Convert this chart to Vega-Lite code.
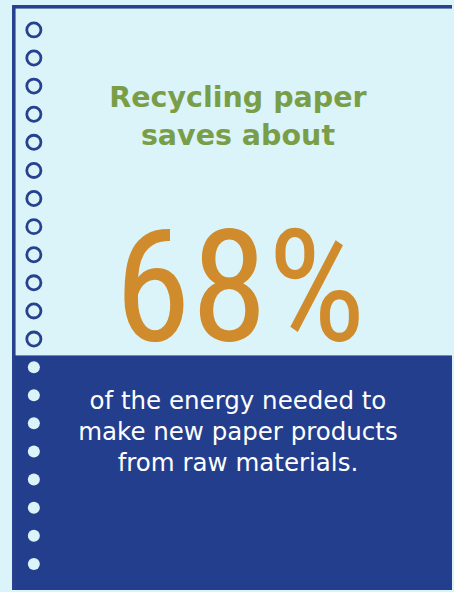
{
  "$schema": "https://vega.github.io/schema/vega-lite/v6.json",
  "autosize": {"type": "fit", "contains": "padding"},
  "width": 454,
  "height": 592,
  "padding": 0,
  "background": "#DAF4FA",
  "config": {"view": {"stroke": null}, "axis": {"disable": true}},
  "datasets": {
    "holes": [
      {"i": 0, "kind": "open"}, {"i": 1, "kind": "open"}, {"i": 2, "kind": "open"}, {"i": 3, "kind": "open"},
      {"i": 4, "kind": "open"}, {"i": 5, "kind": "open"}, {"i": 6, "kind": "open"}, {"i": 7, "kind": "open"},
      {"i": 8, "kind": "open"}, {"i": 9, "kind": "open"}, {"i": 10, "kind": "open"}, {"i": 11, "kind": "open"},
      {"i": 12, "kind": "filled"}, {"i": 13, "kind": "filled"}, {"i": 14, "kind": "filled"}, {"i": 15, "kind": "filled"},
      {"i": 16, "kind": "filled"}, {"i": 17, "kind": "filled"}, {"i": 18, "kind": "filled"}, {"i": 19, "kind": "filled"}
    ],
    "texts": [
      {"block": "headline", "text": "Recycling paper\nsaves about"},
      {"block": "stat", "text": "68%", "value": 68},
      {"block": "caption", "text": "of the energy needed to\nmake new paper products\nfrom raw materials."}
    ]
  },
  "data": {"name": "texts"},
  "resolve": {"scale": {"y": "independent", "x": "independent"}},
  "layer": [
    {
      "mark": {"type": "rect", "color": "#243E8E"},
      "encoding": {
        "x": {"datum": 13, "type": "quantitative", "scale": {"domain": [0, 454]}},
        "x2": {"datum": 454},
        "y": {"datum": 357, "type": "quantitative", "scale": {"domain": [0, 592], "reverse": true}},
        "y2": {"datum": 592}
      }
    },
    {
      "mark": {"type": "rule", "color": "#27418F", "strokeWidth": 3},
      "encoding": {
        "x": {"datum": 13, "type": "quantitative", "scale": {"domain": [0, 454]}},
        "x2": {"datum": 454},
        "y": {"datum": 6.7, "type": "quantitative", "scale": {"domain": [0, 592], "reverse": true}}
      }
    },
    {
      "mark": {"type": "rule", "color": "#27418F", "strokeWidth": 3},
      "encoding": {
        "x": {"datum": 13.8, "type": "quantitative", "scale": {"domain": [0, 454]}},
        "y": {"datum": 5.3, "type": "quantitative", "scale": {"domain": [0, 592], "reverse": true}},
        "y2": {"datum": 592}
      }
    },
    {
      "data": {"name": "holes"},
      "transform": [{"filter": "datum.kind === 'open'"}],
      "mark": {"type": "point", "shape": "circle", "filled": false, "stroke": "#27418F", "strokeWidth": 2.8, "size": 200, "opacity": 1},
      "encoding": {
        "x": {"datum": 34, "type": "quantitative", "scale": {"domain": [0, 454]}},
        "y": {"field": "i", "type": "quantitative", "scale": {"domain": [-1.0638, 19.929], "reverse": true, "zero": false, "nice": false}}
      }
    },
    {
      "data": {"name": "holes"},
      "transform": [{"filter": "datum.kind === 'filled'"}],
      "mark": {"type": "point", "shape": "circle", "filled": true, "fill": "#DAF4FA", "size": 144, "opacity": 1},
      "encoding": {
        "x": {"datum": 34, "type": "quantitative", "scale": {"domain": [0, 454]}},
        "y": {"field": "i", "type": "quantitative", "scale": {"domain": [-1.0638, 19.929], "reverse": true, "zero": false, "nice": false}}
      }
    },
    {
      "transform": [{"filter": "datum.block === 'headline'"}],
      "mark": {"type": "text", "font": "DejaVu Sans", "fontWeight": "bold", "fontSize": 28.5, "color": "#7A9E48", "align": "center", "baseline": "alphabetic", "lineBreak": "\n", "lineHeight": 38},
      "encoding": {
        "text": {"field": "text"},
        "x": {"datum": 239, "type": "quantitative", "scale": {"domain": [0, 454]}},
        "y": {"datum": 107, "type": "quantitative", "scale": {"domain": [0, 592], "reverse": true}}
      }
    },
    {
      "transform": [{"filter": "datum.block === 'stat'"}],
      "mark": {"type": "text", "font": "Roboto Condensed, Roboto", "fontWeight": 400, "fontSize": 155, "color": "#D08C2C", "align": "center", "baseline": "alphabetic"},
      "encoding": {
        "text": {"field": "text"},
        "x": {"datum": 241, "type": "quantitative", "scale": {"domain": [0, 454]}},
        "y": {"datum": 341, "type": "quantitative", "scale": {"domain": [0, 592], "reverse": true}}
      }
    },
    {
      "transform": [{"filter": "datum.block === 'caption'"}],
      "mark": {"type": "text", "font": "DejaVu Sans", "fontWeight": "normal", "fontSize": 24.5, "color": "#FFFFFF", "align": "center", "baseline": "alphabetic", "lineBreak": "\n", "lineHeight": 31},
      "encoding": {
        "text": {"field": "text"},
        "x": {"datum": 239, "type": "quantitative", "scale": {"domain": [0, 454]}},
        "y": {"datum": 410, "type": "quantitative", "scale": {"domain": [0, 592], "reverse": true}}
      }
    }
  ]
}
